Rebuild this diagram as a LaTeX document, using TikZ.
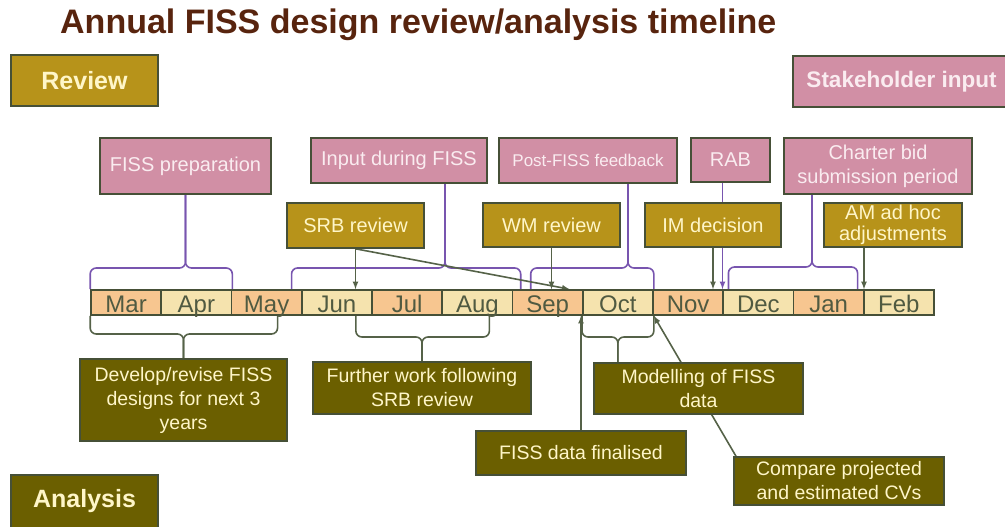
\documentclass[tikz,border=0pt]{standalone}
\usepackage{fontspec}
\setmainfont{Liberation Sans}
\usepackage{tikz}
\usetikzlibrary{calc, arrows, backgrounds}

\definecolor{titlebrown}{RGB}{88,36,14}
\definecolor{boxedge}{RGB}{70,80,55}
\definecolor{pinkfill}{RGB}{209,143,165}
\definecolor{goldfill}{RGB}{183,147,26}
\definecolor{olivefill}{RGB}{107,95,0}
\definecolor{lighttext}{RGB}{255,246,200}
\definecolor{pinktext}{RGB}{250,236,240}
\definecolor{monthA}{RGB}{247,198,144}
\definecolor{monthB}{RGB}{245,227,174}
\definecolor{monthtext}{RGB}{80,90,65}
\definecolor{bracepurple}{RGB}{120,85,175}
\definecolor{linegreen}{RGB}{85,98,72}

\begin{document}
\begin{tikzpicture}
      [
        x=1pt, y=-1pt,
        box/.style={draw=boxedge, line width=1.6pt, inner sep=0pt, align=center},
        pinkbox/.style={box, fill=pinkfill, text=pinktext,
          font=\fontsize{20}{24}\selectfont},
        goldbox/.style={box, fill=goldfill, text=lighttext,
          font=\fontsize{20}{24}\selectfont},
        olivebox/.style={box, fill=olivefill, text=lighttext,
          font=\fontsize{19.5}{24}\selectfont},
        headbox/.style={box, text=lighttext, font=\fontsize{25}{30}\selectfont\bfseries},
        month/.style={draw=boxedge, line width=1.6pt, inner sep=0pt,
          minimum width=70.25pt, minimum height=25pt, text=monthtext,
          text height=21pt, text depth=2pt,
          font=\fontsize{24}{26}\selectfont},
        pbrace/.style={draw=bracepurple, line width=1.6pt, rounded corners=6pt},
        gbrace/.style={draw=linegreen, line width=1.6pt, rounded corners=6pt},
        garrow/.style={draw=linegreen, line width=1.6pt, -latex},
        parrow/.style={draw=bracepurple, line width=1.6pt, -latex}
      ]
      \useasboundingbox (0,0) rectangle (1005,527);
      % title
      \node [anchor=base west, inner sep=0pt, text=titlebrown,
        font=\fontsize{34}{40}\selectfont\bfseries] (title) at (60,34)
        {Annual FISS design review/analysis timeline};
      % headings
      \node [headbox, fill=goldfill, minimum width=147pt, minimum height=51pt]
        (review) at (84.5,80.5) {Review};
      \node [headbox, fill=pinkfill, text=pinktext, minimum width=217pt,
        minimum height=51pt, font=\fontsize{22.5}{27}\selectfont\bfseries]
        (stake) at (901.5,81.5) {Stakeholder input};
      \node [headbox, fill=olivefill, minimum width=147pt, minimum height=53pt]
        (analysis) at (84.5,501.5) {Analysis};
      % months
      \foreach \m/\c [count=\i] in {Mar/monthA,Apr/monthB,May/monthA,Jun/monthB,
          Jul/monthA,Aug/monthB,Sep/monthA,Oct/monthB,Nov/monthA,Dec/monthB,
          Jan/monthA,Feb/monthB} {
          \node [month, fill=\c] (m\i) at ({91+70.25*(\i-0.5)},302.5) {\m};
      }
      % stakeholder input
      \node [pinkbox, minimum width=171pt, minimum height=56pt] (prep) at (185.5,166)
        {FISS preparation};
      \node [pinkbox, minimum width=176pt, minimum height=45pt] (input) at (399,160.5)
        {Input during FISS};
      \node [pinkbox, minimum width=178pt, minimum height=45pt,
        font=\fontsize{17}{20}\selectfont] (post) at (588,160.5) {Post-FISS feedback};
      \node [pinkbox, minimum width=79pt, minimum height=44pt] (rab) at (730.5,160) {RAB};
      \node [pinkbox, minimum width=188pt, minimum height=56pt] (charter) at (878,166)
        {Charter bid\\submission period};
      % reviews
      \node [goldbox, minimum width=137pt, minimum height=45pt] (srb) at (355.5,225.5)
        {SRB review};
      \node [goldbox, minimum width=137pt, minimum height=44pt] (wm) at (551.5,225)
        {WM review};
      \node [goldbox, minimum width=136pt, minimum height=44pt] (im) at (713,225)
        {IM decision};
      \node [goldbox, minimum width=138pt, minimum height=44pt,
        font=\fontsize{20}{21}\selectfont] (am) at (893,225) {AM ad hoc\\adjustments};
      % analysis
      \node [olivebox, minimum width=207pt, minimum height=82pt] (dev) at (183.5,400)
        {Develop/revise FISS\\designs for next 3\\years};
      \node [olivebox, minimum width=218pt, minimum height=52pt] (further) at (422,388)
        {Further work following\\SRB review};
      \node [olivebox, minimum width=209pt, minimum height=51pt] (model) at (698.5,388.5)
        {Modelling of FISS\\data};
      \node [olivebox, minimum width=210pt, minimum height=44pt] (fin) at (581,453)
        {FISS data finalised};
      \node [olivebox, minimum width=210pt, minimum height=48pt] (cmp) at (839,481)
        {Compare projected\\and estimated CVs};
      % feet of connectors
      \coordinate (inputtip) at ([xshift=46pt]input.south);
      \coordinate (posttip) at ([xshift=40pt]post.south);
      \coordinate (rabfoot) at ([xshift=-8pt]rab.south);
      \coordinate (chartertip) at ([xshift=-66pt]charter.south);
      \coordinate (amfoot) at ([xshift=-29pt]am.south);
      \coordinate (cmpfoot) at ([xshift=-103pt]cmp.north);
      \coordinate (octtip) at (m8.south |- model.north);
      \begin{scope}[on background layer]
      % braces above
      \draw [pbrace] (m1.north west) |- (prep.south |- 0,268) -- (prep.south);
      \draw [pbrace] (m2.north east) |- (prep.south |- 0,268) -- (prep.south);
      \draw [pbrace] ([xshift=-11pt]m3.north east) |- (inputtip |- 0,268) -- (inputtip);
      \draw [pbrace] ([xshift=9pt]m7.north west) |- (inputtip |- 0,268) -- (inputtip);
      \draw [pbrace] ([xshift=19pt]m7.north west) |- (posttip |- 0,268) -- (posttip);
      \draw [pbrace] (m8.north east) |- (posttip |- 0,268) -- (posttip);
      \draw [pbrace] ([xshift=6pt]m10.north west) |- (chartertip |- 0,267) -- (chartertip);
      \draw [pbrace] ([xshift=-7pt]m11.north east) |- (chartertip |- 0,267) -- (chartertip);
      \draw [parrow] (rabfoot) -- (rabfoot |- m9.north);
      % braces below
      \draw [gbrace] (m1.south west) |- (dev.north |- 0,334) -- (dev.north);
      \draw [gbrace] ([xshift=-25pt]m3.south east) |- (dev.north |- 0,334) -- (dev.north);
      \draw [gbrace] ([xshift=19pt]m4.south) |- (further.north |- 0,337) -- (further.north);
      \draw [gbrace] ([xshift=12pt]m6.south) |- (further.north |- 0,337) -- (further.north);
      \draw [gbrace] (m8.south west) |- (octtip |- 0,337) -- (octtip);
      \draw [gbrace] (m8.south east) |- (octtip |- 0,337) -- (octtip);
      % arrows
      \draw [garrow] (srb.south) -- (srb.south |- m4.north);
      \draw [garrow] (srb.south) -- ([xshift=22pt]m7.north);
      \draw [garrow] (wm.south) -- (wm.south |- m7.north);
      \draw [garrow] (im.south) -- (im.south |- m9.north);
      \draw [garrow] (amfoot) -- (amfoot |- m12.north);
      \draw [garrow] (fin.north) -- (fin.north |- m8.south);
      \draw [garrow] (cmpfoot) -- (m8.south east);
      \end{scope}
    \end{tikzpicture}
\end{document}
